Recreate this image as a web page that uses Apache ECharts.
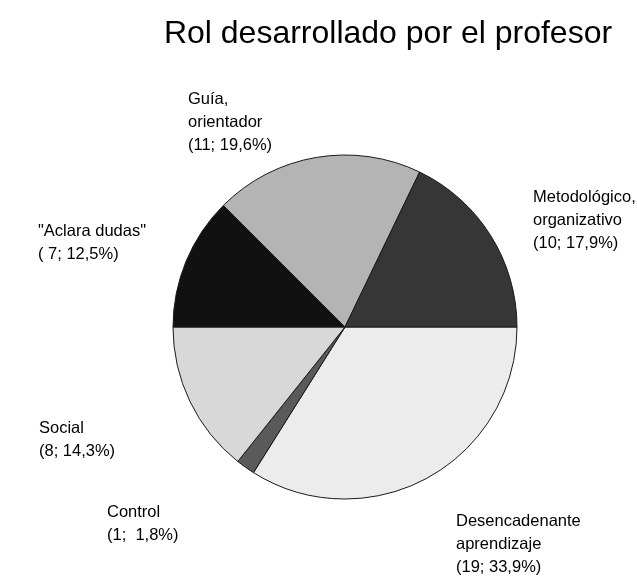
<!DOCTYPE html>
<html>
<head>
<meta charset="utf-8">
<script src="https://cdn.jsdelivr.net/npm/echarts@6/dist/echarts.min.js"></script>
<style>
  html, body { margin: 0; padding: 0; background: #fff; }
  #chart { width: 637px; height: 579px; }
</style>
</head>
<body>
<div id="chart"></div>
<script>
// slices, clockwise from 3 o'clock
const categories = ['Desencadenante\naprendizaje', 'Control', 'Social', '"Aclara dudas"', 'Guía,\norientador', 'Metodológico,\norganizativo']
const values = [19, 1, 8, 7, 11, 10]
const sliceColors = ['#ececec', '#5a5a5a', '#d8d8d8', '#111111', '#b4b4b4', '#363636']
// the original pads a couple of numbers with spaces
const valuePad = [0, 0, 0, 2, 0, 0]
const pctPad = [0, 4, 0, 0, 0, 0]
// top-left corner of each label block
const labelPos = [[456, 510], [107, 501], [39, 417], [38, 220], [188, 88], [533, 186]]

const total = values.reduce((s, v) => s + v, 0)

const labelText = i => {
  const v = String(values[i]).padStart(valuePad[i], ' ')
  const p = (values[i] / total * 100).toFixed(1).replace('.', ',').padStart(pctPad[i], ' ')
  return categories[i] + '\n(' + v + '; ' + p + '%)'
}

const chart = echarts.init(document.getElementById('chart'))
chart.setOption({
  animation: false,
  backgroundColor: '#fff',
  title: {
    text: 'Rol desarrollado por el profesor',
    left: 383,
    top: 13,
    textAlign: 'center',
    textStyle: { fontFamily: 'Liberation Sans', fontSize: 32, fontWeight: 'normal', color: '#000' }
  },
  series: [
    {
      type: 'pie',
      center: [345, 327],
      radius: [0, 172],
      startAngle: 0,
      clockwise: true,
      silent: true,
      data: values.map((v, i) => ({
        name: categories[i],
        value: v,
        itemStyle: { color: sliceColors[i] }
      })),
      itemStyle: { borderColor: '#1a1a1a', borderWidth: 1 },
      label: {
        show: true,
        position: 'outside',
        overflow: 'none',
        formatter: p => labelText(p.dataIndex),
        fontFamily: 'Liberation Sans',
        fontSize: 16.5,
        lineHeight: 23,
        color: '#000'
      },
      labelLine: { show: false },
      labelLayout: p => {
        const a = labelPos[p.dataIndex]
        return { x: a[0], y: a[1], align: 'left', verticalAlign: 'top', hideOverlap: false, moveOverlap: false }
      }
    }
  ]
})
</script>
</body>
</html>
